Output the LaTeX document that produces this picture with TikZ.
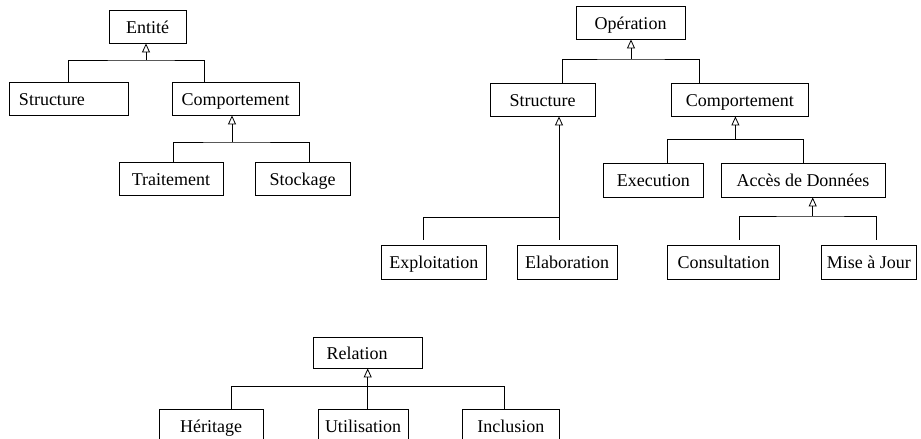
\documentclass[tikz,border=0pt]{standalone}
\usepackage{fontspec}
\setmainfont{Liberation Serif}
\usetikzlibrary{arrows.meta}
\begin{document}
\begin{tikzpicture}[x=1pt,y=-1pt,
  box/.style={draw, line width=0.9pt, minimum height=33pt, inner sep=0pt, text height=13pt, text depth=0pt, font=\fontsize{18}{20}\selectfont},
  link/.style={draw, line width=0.8pt},
  inh/.style={link, -{Triangle[open,length=9pt,width=8pt,line width=0.8pt]}}]
\useasboundingbox (0,0) rectangle (921,439);

% ---------- Entite tree ----------
\node[box, minimum width=77pt] (eE) at (147.5,26.5) {Entité};
\node[box, minimum width=119pt, text width=99pt, align=left, inner xsep=10pt] (sE) at (68.5,98.5) {Structure};
\node[box, minimum width=127pt] (cE) at (235.5,98.5) {Comportement};
\node[box, minimum width=104pt] (tE) at (171,179) {Traitement};
\node[box, minimum width=95pt] (kE) at (302.5,179) {Stockage};

\coordinate (jE) at (146,60);
\draw[inh] (jE) -- (jE |- eE.south);
\draw[link] (sE.north) |- (jE) -| (cE.north -| 204,0);

\coordinate (jC) at (232,142);
\draw[inh] (jC) -- (jC |- cE.south);
\draw[link] (tE.north -| 173,0) |- (jC) -| (kE.north -| 309,0);

% ---------- Operation tree ----------
\node[box, minimum width=109pt] (oO) at (630.5,22.5) {Opération};
\node[box, minimum width=105pt] (sO) at (542.5,99.5) {Structure};
\node[box, minimum width=136.5pt] (cO) at (739.75,99.5) {Comportement};
\node[box, minimum width=104.4pt, minimum height=34pt] (xO) at (433.8,262) {Exploitation};
\node[box, minimum width=100pt, minimum height=34pt] (lO) at (567,262) {Elaboration};
\node[box, minimum width=99.3pt, minimum height=34pt] (eO) at (653.35,180) {Execution};
\node[box, minimum width=164pt, minimum height=34pt] (aO) at (803,180) {Accès de Données};
\node[box, minimum width=112pt, minimum height=34pt] (nO) at (723.65,262) {Consultation};
\node[box, minimum width=94.5pt, minimum height=34pt] (mO) at (868.75,262) {Mise à Jour};

\coordinate (jO) at (631,59);
\draw[inh] (jO) -- (jO |- oO.south);
\draw[link] (sO.north -| 562.5,0) |- (jO) -| (cO.north -| 699,0);

\coordinate (jS) at (559,217);
\draw[inh, shorten <=5pt] (lO.north -| jS) -- (sO.south -| jS);
\draw[link, shorten <=5pt] (xO.north -| 423,0) |- (jS);

\coordinate (jC2) at (735.4,139.5);
\draw[inh] (jC2) -- (jC2 |- cO.south);
\draw[link] (eO.north -| 667.6,0) |- (jC2) -| (aO.north -| 803,0);

\coordinate (jA) at (812.7,216);
\draw[inh] (jA) -- (jA |- aO.south);
\draw[link, shorten <=5pt, shorten >=5pt] (nO.north -| 739.6,0) |- (jA) -| (mO.north -| 876,0);

% ---------- Relation tree ----------
\node[box, minimum width=109pt, minimum height=31pt, text width=81.6pt, align=left, inner xsep=13.7pt] (rR) at (367.5,352.5) {Relation};
\node[box, minimum width=104pt] (hR) at (211,425.5) {Héritage};
\node[box, minimum width=90pt] (uR) at (363,425.5) {Utilisation};
\node[box, minimum width=96.3pt] (iR) at (510.85,425.5) {Inclusion};

\coordinate (jR) at (367.7,386.7);
\draw[inh, line width=1.2pt] (uR.north -| jR) -- (rR.south -| jR);
\draw[link] (hR.north -| 231.7,0) |- (jR) -| (iR.north -| 504,0);
\end{tikzpicture}
\end{document}
